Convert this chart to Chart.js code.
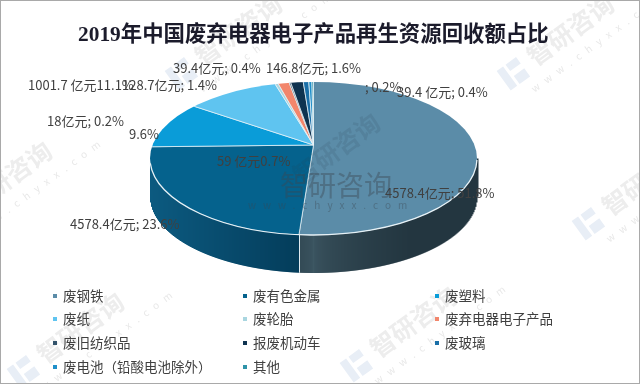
<!DOCTYPE html>
<html>
<head>
<meta charset="utf-8">
<style>
  html, body { margin: 0; padding: 0; background: #fff; }
  #wrap { position: relative; width: 640px; height: 384px; overflow: hidden; }
  #frame { position: absolute; left: 0; top: 0; width: 640px; height: 384px; box-sizing: border-box; border: 1px solid #a9a9a9; pointer-events: none; }
</style>
</head>
<body>
<div id="wrap">
  <canvas id="myChart" width="640" height="384"></canvas>
  <div id="frame"></div>
</div>
<script src="https://cdn.jsdelivr.net/npm/chart.js@4/dist/chart.umd.min.js"></script>
<script>
var categories = ["废钢铁", "废有色金属", "废塑料", "废纸", "废轮胎", "废弃电器电子产品", "废旧纺织品", "报废机动车", "废玻璃", "废电池（铅酸电池除外）", "其他"];
var shares = [51.8, 23.6, 9.6, 11.1, 0.4, 1.4, 0.2, 1.6, 0.7, 0.4, 0.2];
var colors = ["#5b8ca8", "#05628d", "#0a9cd8", "#5fc4f0", "#a9d6e0", "#f2866c", "#33536b", "#0f3350", "#1a6fa8", "#1f8fc9", "#2f93a8"];
var labelTexts = ["39.4亿元; 0.4%", "146.8亿元; 1.6%", "1001.7 亿元11.1%", "128.7亿元; 1.4%", "; 0.2%", "39.4 亿元; 0.4%", "18亿元; 0.2%", "9.6%", "59 亿元0.7%", "4578.4亿元; 51.8%", "4578.4亿元; 23.6%"];
var titleText = "2019年中国废弃电器电子产品再生资源回收额占比";

/*where things sit on the page*/
var top3d = { x: 313.5, y: 158.5, rx: 163.5, ry: 76.5, depth: 38 };
var hub = { x: 313.5, y: 145, squash: 0.5 };
var labelSpots = [[173, 68], [266, 68], [28, 85], [122, 85], [365, 87], [397, 92], [47, 121], [129, 134], [217, 161], [385, 193], [70, 224]];
var legendCols = [55, 245, 437];
var legendRows = [296, 319, 343, 367];
var wallNear = ["#3d5763", "#033a57"];
var wallFar = ["#233640", "#0c5a80"];
var marks = [[223, 46], [555, 46], [65, 344], [398, 338], [630, 196], [-7, 193]];
var cjk = '"Noto Sans CJK SC", sans-serif';

function mix(a, b, t) {
  var out = [];
  for (var i = 1; i < 7; i += 2) {
    var p = parseInt(a.substr(i, 2), 16);
    var q = parseInt(b.substr(i, 2), 16);
    out.push(Math.round(p + (q - p) * t));
  }
  return "rgb(" + out.join(",") + ")";
}

function drawMarks(ctx) {
  for (var i = 0; i < marks.length; i++) {
    ctx.save();
    ctx.translate(marks[i][0], marks[i][1]);
    ctx.rotate(-36 * Math.PI / 180);
    ctx.fillStyle = "#e8eef6";
    ctx.fillRect(-62, -14, 8, 24);
    ctx.fillRect(-51, -14, 13, 8);
    ctx.fillRect(-51, 0, 13, 10);
    ctx.fillStyle = "#ededed";
    ctx.font = "bold 25px " + cjk;
    ctx.textAlign = "left";
    ctx.textBaseline = "middle";
    ctx.fillText("智研咨询", -28, -4);
    ctx.fillStyle = "#e8e8e8";
    ctx.font = "10px " + cjk;
    ctx.letterSpacing = "7px";
    ctx.fillText("www.chyxx.com", -44, 22);
    ctx.restore();
  }
}

/*side of the cake, one pixel column at a time, colour comes from the slice at that column*/
function drawWall(chart, ctx) {
  var arcs = chart.getDatasetMeta(0).data;
  var lastSlice = -1;
  var x0 = Math.ceil(top3d.x - top3d.rx);
  var x1 = Math.floor(top3d.x + top3d.rx);
  for (var x = x0; x <= x1; x++) {
    var u = (x + 0.5 - top3d.x) / top3d.rx;
    var y = top3d.y + top3d.ry * Math.sqrt(Math.max(0, 1 - u * u));
    var a = Math.atan2((y - hub.y) / hub.squash, x + 0.5 - hub.x);
    if (a < -Math.PI / 2) a += Math.PI * 2;
    var slice = 0;
    for (var j = 0; j < arcs.length; j++) {
      if (a >= arcs[j].startAngle && a < arcs[j].endAngle) slice = j;
    }
    var w = slice < wallNear.length ? slice : 1;
    var t = Math.min(1, Math.abs(u) * 1.0);
    if (w == 0) t = Math.min(1, Math.sqrt(t) * 1.3);
    ctx.fillStyle = mix(wallNear[w], wallFar[w], t);
    ctx.fillRect(x, y, 1.5, top3d.depth);
    if (lastSlice != -1 && lastSlice != slice) {
      ctx.fillStyle = "#dfeaf0";
      ctx.fillRect(x, y, 1.2, top3d.depth);
    }
    lastSlice = slice;
  }
}

function drawTexts(ctx) {
  ctx.textBaseline = "middle";
  ctx.textAlign = "left";

  ctx.fillStyle = "#1b1b2b";
  ctx.font = 'bold 21.4px "Liberation Serif", ' + cjk;
  ctx.fillText(titleText, 78, 35);

  /*faint tilted watermark inside the pie*/
  ctx.save();
  ctx.translate(296, 178);
  ctx.rotate(-36 * Math.PI / 180);
  ctx.fillStyle = "rgba(40,60,75,0.13)";
  ctx.font = "bold 25px " + cjk;
  ctx.fillText("智研咨询", 0, 0);
  ctx.restore();

  ctx.fillStyle = "#404040";
  ctx.font = "13px " + cjk;
  for (var i = 0; i < labelTexts.length; i++) {
    ctx.fillText(labelTexts[i], labelSpots[i][0], labelSpots[i][1]);
  }

  ctx.font = "13.5px " + cjk;
  for (var k = 0; k < categories.length; k++) {
    var col = k % 3;
    var row = Math.floor(k / 3);
    ctx.fillStyle = colors[k];
    ctx.fillRect(legendCols[col] - 2, legendRows[row] - 2, 4, 4);
    ctx.fillStyle = "#404040";
    ctx.fillText(categories[k], legendCols[col] + 8, legendRows[row]);
  }

  /*big watermark on top of the pie*/
  ctx.fillStyle = "rgba(60,70,80,0.4)";
  ctx.font = "28px " + cjk;
  ctx.fillText("智研咨询", 280, 185);
  ctx.font = "10px " + cjk;
  ctx.letterSpacing = "7px";
  ctx.fillText("www.chyxx.com", 248, 205);
  ctx.letterSpacing = "0px";
}

var cakePlugin = {
  id: "cake",
  beforeDatasetsDraw: function(chart) {
    var ctx = chart.ctx;
    var el = chart.getDatasetMeta(0).data[0];
    ctx.save();
    ctx.fillStyle = "#fff";
    ctx.fillRect(0, 0, 640, 384);
    drawMarks(ctx);
    drawWall(chart, ctx);
    ctx.beginPath();
    ctx.ellipse(top3d.x, top3d.y, top3d.rx, top3d.ry, 0, 0, Math.PI * 2);
    ctx.clip();
    ctx.translate(hub.x, hub.y);
    ctx.scale(1, hub.squash);
    ctx.translate(-el.x, -el.y);
  },
  afterDatasetsDraw: function(chart) {
    var ctx = chart.ctx;
    ctx.restore();
    ctx.beginPath();
    ctx.ellipse(top3d.x, top3d.y, top3d.rx, top3d.ry, 0, 0.02, Math.PI * 0.98);
    ctx.strokeStyle = "#e6f1f6";
    ctx.lineWidth = 1.3;
    ctx.stroke();
    drawTexts(ctx);
  }
};

var ctx = document.getElementById('myChart').getContext('2d');
var myPieChart = new Chart(ctx, {
  type: 'pie',
  data: {
    labels: categories,
    datasets: [{
      data: shares,
      backgroundColor: colors,
      borderColor: "#eaf3f7",
      borderWidth: 1,
      clip: false
    }]
  },
  options: {
    responsive: false,
    animation: false,
    layout: { padding: 0 },
    plugins: {
      legend: { display: false },
      title: { display: false },
      tooltip: { enabled: false }
    }
  },
  plugins: [cakePlugin]
});
</script>
</body>
</html>
